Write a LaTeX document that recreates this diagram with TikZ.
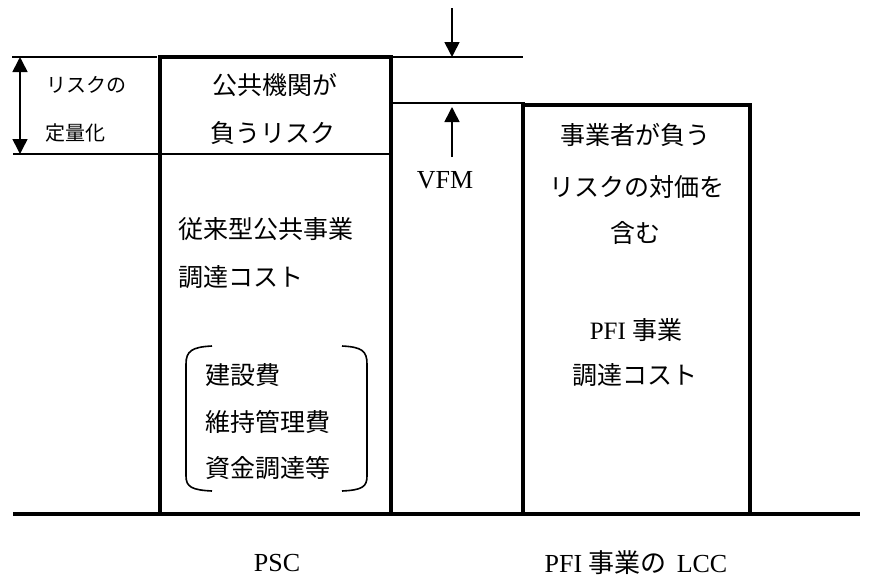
\documentclass[tikz,border=0pt]{standalone}
\usepackage{fontspec}
\setmainfont{Liberation Serif}
\newfontfamily\jp{Noto Sans CJK JP}
\usetikzlibrary{arrows.meta}
\tikzset{
  heavy/.style={line width=3.2pt},
  thinline/.style={line width=1.6pt},
  arr/.style={line width=1.6pt,-{Triangle[length=15pt,width=15pt]}},
  darr/.style={line width=1.6pt,{Triangle[length=15pt,width=15pt]}-{Triangle[length=15pt,width=15pt]}},
  brk/.style={line width=1.6pt},
  txt/.style={inner sep=0pt,font=\jp\fontsize{25}{25}\selectfont},
  small/.style={inner sep=0pt,font=\jp\fontsize{20}{20}\selectfont},
  lat/.style={inner sep=0pt,font=\fontsize{26}{26}\selectfont}
}
\begin{document}
\begin{tikzpicture}[x=1pt,y=-1pt]
\useasboundingbox (0,0) rectangle (873,579);
% coordinates
\coordinate (q1) at (12,57);
\coordinate (q2) at (157,57);
\coordinate (q3) at (13,154);
\coordinate (q4) at (391,154);
\coordinate (la) at (20,57);
\coordinate (lb) at (20,154);
\coordinate (m1) at (391,57);
\coordinate (m2) at (523,57);
\coordinate (m3) at (391,103);
\coordinate (m4) at (525,103);
\coordinate (da) at (452,8);
\coordinate (db) at (452,57);
\coordinate (ua) at (452,157);
\coordinate (ub) at (452,107);
\coordinate (g1) at (13,514);
\coordinate (g2) at (860,514);
% boxes
\draw[heavy] (160,57) rectangle (391,514);
\draw[heavy] (523,105) rectangle (750,514);
\draw[heavy] (g1) -- (g2);
% thin lines
\draw[thinline] (q1) -- (q2);
\draw[thinline] (q3) -- (q4);
\draw[thinline] (m1) -- (m2);
\draw[thinline] (m3) -- (m4);
% arrows
\draw[darr] (la) -- (lb);
\draw[arr] (da) -- (db);
\draw[arr] (ua) -- (ub);
% brackets
\draw[brk] (212,346) .. controls (192,347) and (186,351) .. (186,364) -- (186,476) .. controls (186,487) and (192,490) .. (212,491);
\draw[brk] (342,346) .. controls (362,347) and (367,351) .. (367,364) -- (367,476) .. controls (367,487) and (362,490) .. (342,491);
% texts
\node[small,anchor=west] (r1) at (46,85) {リスクの};
\node[small,anchor=west] (r2) at (45,133) {定量化};
\node[txt] (pub1) at (275,85) {公共機関が};
\node[txt] (pub2) at (273,133) {負うリスク};
\node[txt,anchor=west] (c1) at (178,229) {従来型公共事業};
\node[txt,anchor=west] (c2) at (178,277) {調達コスト};
\node[txt,anchor=west] (b1) at (205,375) {建設費};
\node[txt,anchor=west] (b2) at (205,422) {維持管理費};
\node[txt,anchor=west] (b3) at (205,468) {資金調達等};
\node[txt] (p1) at (635,135) {事業者が負う};
\node[txt] (p2) at (637,187) {リスクの対価を};
\node[txt] (p3) at (635,233) {含む};
\node[txt] (p4) at (636,330) {{\rmfamily PFI }事業};
\node[txt] (p5) at (635,375) {調達コスト};
\node[lat] (vfm) at (445,180) {VFM};
\node[lat] (psc) at (277,563) {PSC};
\node[lat] (lcc) at (636,563) {PFI {\jp 事業の}\hspace{10pt}LCC};
\end{tikzpicture}
\end{document}
